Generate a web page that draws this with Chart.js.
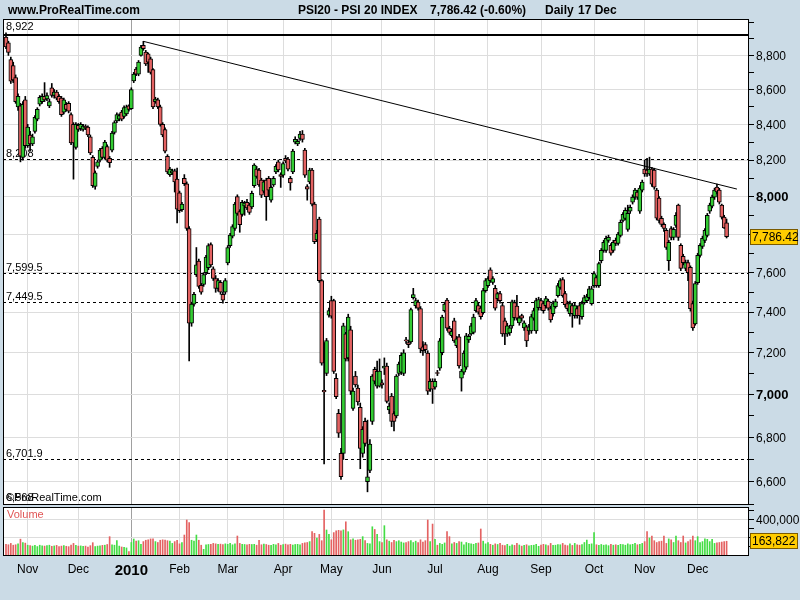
<!DOCTYPE html>
<html>
<head>
<meta charset="utf-8">
<title>PSI20 - PSI 20 INDEX</title>
<script src="https://cdn.jsdelivr.net/npm/chart.js@4.4.1/dist/chart.umd.min.js"></script>
<style>
  html, body { margin: 0; padding: 0; background: #cbdbe6; }
  #page { position: relative; width: 800px; height: 600px; overflow: hidden;
          font-family: "Liberation Sans", Arial, sans-serif; }
  canvas { position: absolute; left: 0; }
  #priceCanvas { top: 0; }
  #volCanvas { top: 500px; }
  .hdr { position: absolute; top: 3px; font-size: 12px; font-weight: bold; color: #000; white-space: pre; }
</style>
</head>
<body>
<div id="page">
  <canvas id="priceCanvas" width="800" height="506"></canvas>
  <canvas id="volCanvas" width="800" height="100"></canvas>
  <div class="hdr" style="left:8px">www.ProRealTime.com</div>
  <div class="hdr" style="left:298px">PSI20 - PSI 20 INDEX</div>
  <div class="hdr" style="left:430px">7,786.42 (-0.60%)</div>
  <div class="hdr" style="left:545px">Daily</div>
  <div class="hdr" style="left:578px">17 Dec</div>
</div>
<script>
// ===================== DATA =====================
// one entry per trading day, 20 Oct 2009 .. 17 Dec 2010 (index 0..299)
const opens = [
  8910,8875,8776,8740,8670,8500,8505,8215,8540,8280,
  8340,8290,8360,8430,8515,8530,8560,8545,8505,8610,
  8565,8585,8560,8550,8470,8515,8520,8455,8400,8270,
  8395,8375,8372,8390,8385,8330,8215,8055,8165,8200,
  8265,8215,8275,8210,8255,8355,8420,8430,8470,8445,
  8460,8505,8490,8650,8720,8690,8800,8860,8820,8810,
  8780,8717,8530,8540,8500,8400,8370,8220,8120,8130,
  8140,8095,8020,7930,8100,8070,7830,7345,7440,7590,
  7660,7535,7540,7600,7625,7745,7620,7570,7520,7550,
  7490,7500,7650,7740,7790,7830,8000,7920,7905,7950,
  7970,7955,7945,8060,8150,8145,8090,8030,8090,8100,
  7981,8063,8135,8190,8120,8117,8210,8205,8100,8135,
  8300,8290,8320,8345,8256,8055,8080,8145,7960,7770,
  7880,7559,7020,7100,7385,7458,7458,7077,6912,6727,
  6727,7292,7175,7312,6935,7087,7030,6940,6727,6874,
  6600,6650,6874,7120,7040,7040,7055,7126,7136,6927,
  6993,6910,6900,7100,7106,7100,7262,7250,7253,7473,
  7433,7450,7418,7229,7240,7199,7025,7063,7035,7102,
  7126,7200,7408,7460,7320,7283,7357,7234,7278,7078,
  7106,7130,7263,7292,7300,7408,7433,7420,7398,7508,
  7534,7615,7550,7520,7468,7493,7433,7357,7292,7297,
  7332,7448,7430,7347,7383,7322,7327,7307,7307,7370,
  7307,7423,7458,7443,7433,7455,7418,7392,7428,7483,
  7524,7565,7493,7443,7392,7433,7383,7418,7433,7378,
  7448,7458,7473,7443,7534,7575,7534,7662,7715,7715,
  7767,7741,7715,7767,7752,7794,7873,7883,7825,7922,
  7970,7997,8025,7922,8035,8150,8145,8123,8150,8145,
  8035,7992,7884,7852,7820,7662,7830,7783,7846,7954,
  7741,7684,7622,7652,7627,7443,7342,7549,7689,7736,
  7767,7794,7922,7949,7997,8052,8035,7954,7890,7860
];
const highs = [
  8935,8885,8790,8760,8685,8575,8520,8530,8560,8400,
  8360,8345,8450,8495,8565,8575,8640,8580,8545,8635,
  8600,8595,8570,8560,8550,8525,8530,8465,8410,8410,
  8405,8410,8400,8398,8392,8340,8225,8140,8200,8265,
  8275,8310,8285,8220,8360,8420,8465,8460,8480,8505,
  8510,8512,8610,8700,8730,8770,8860,8884,8830,8815,
  8790,8722,8555,8550,8510,8410,8380,8230,8160,8150,
  8150,8156,8030,7970,8120,8080,7840,7450,7500,7730,
  7670,7545,7600,7690,7750,7755,7630,7585,7570,7560,
  7500,7570,7740,7805,7850,7970,8010,7930,7980,7975,
  7985,7965,8030,8180,8165,8155,8100,8090,8100,8110,
  8060,8110,8175,8200,8130,8190,8225,8215,8110,8260,
  8330,8315,8360,8365,8265,8065,8155,8155,7970,7820,
  7890,7565,7250,7270,7420,7480,7465,7100,6930,6750,
  7345,7300,7390,7330,7030,7110,7045,6960,6850,6890,
  6880,6790,7095,7130,7160,7170,7070,7175,7150,6960,
  7005,6920,7095,7155,7200,7215,7275,7262,7420,7520,
  7470,7460,7428,7255,7250,7210,7075,7075,7075,7115,
  7270,7385,7450,7470,7330,7315,7370,7280,7290,7120,
  7210,7295,7290,7345,7390,7470,7445,7430,7520,7570,
  7580,7625,7580,7535,7500,7505,7445,7370,7345,7335,
  7460,7460,7485,7380,7390,7357,7335,7340,7390,7420,
  7470,7475,7470,7455,7480,7465,7430,7455,7465,7545,
  7570,7575,7505,7455,7455,7445,7445,7430,7445,7455,
  7485,7490,7530,7530,7605,7585,7655,7725,7768,7790,
  7795,7750,7768,7780,7810,7875,7915,7940,7954,7955,
  8010,8045,8035,8060,8090,8200,8210,8216,8160,8155,
  8045,8000,7895,7860,7830,7768,7840,7835,7915,7960,
  7750,7695,7665,7665,7635,7455,7555,7700,7750,7790,
  7830,7910,7965,8008,8046,8068,8045,7960,7900,7880
];
const lows = [
  8840,8800,8635,8640,8520,8480,8190,8200,8265,8270,
  8250,8280,8350,8420,8505,8520,8530,8535,8495,8555,
  8550,8540,8520,8445,8460,8475,8465,8285,8095,8260,
  8360,8365,8362,8370,8330,8230,8050,8040,8155,8190,
  8205,8205,8190,8160,8245,8345,8410,8420,8420,8435,
  8450,8475,8485,8640,8680,8680,8795,8830,8740,8700,
  8690,8490,8520,8490,8390,8330,8240,8125,8110,8120,
  8025,7860,7915,7920,8060,7820,7160,7330,7430,7580,
  7520,7490,7530,7590,7615,7630,7560,7500,7505,7490,
  7445,7490,7640,7730,7780,7820,7900,7810,7895,7900,
  7930,7905,7935,8050,8100,8055,7995,8020,7873,8000,
  7970,8055,8125,8135,8050,8105,8185,8140,8035,8125,
  8290,8280,8310,8300,8105,7981,8070,7950,7750,7760,
  7550,7140,6680,7090,7375,7370,7100,6980,6800,6610,
  6700,7160,7160,7000,6925,7035,6950,6658,6710,6760,
  6555,6640,6860,7050,7030,7035,7030,7095,6960,6910,
  6850,6830,6890,7090,7095,7090,7245,7225,7245,7465,
  7420,7410,7200,7187,7200,7000,7015,6958,7025,7090,
  7115,7190,7400,7310,7290,7275,7250,7225,7125,7016,
  7095,7120,7250,7285,7292,7400,7390,7365,7390,7500,
  7525,7550,7540,7410,7455,7445,7280,7240,7280,7285,
  7320,7360,7360,7335,7355,7310,7230,7290,7295,7360,
  7295,7410,7410,7395,7420,7410,7350,7380,7420,7475,
  7515,7475,7425,7405,7380,7325,7370,7370,7340,7365,
  7440,7450,7465,7435,7525,7525,7525,7650,7705,7705,
  7757,7690,7705,7740,7742,7785,7865,7875,7815,7910,
  7960,7985,7985,7910,8025,8110,8110,8115,8055,8040,
  7875,7860,7840,7815,7720,7611,7770,7770,7835,7767,
  7610,7640,7610,7559,7405,7310,7335,7540,7680,7725,
  7755,7785,7910,7940,7985,8015,7960,7880,7830,7780
];
const closes = [
  8850,8818,8648,8655,8530,8560,8222,8514,8280,8385,
  8290,8330,8440,8485,8555,8560,8540,8565,8530,8565,
  8585,8550,8530,8455,8540,8485,8475,8295,8295,8400,
  8372,8400,8390,8380,8340,8240,8060,8130,8190,8255,
  8215,8300,8200,8185,8350,8410,8456,8450,8430,8495,
  8500,8485,8600,8690,8690,8760,8850,8840,8750,8760,
  8700,8500,8545,8500,8400,8340,8250,8135,8150,8140,
  8080,7933,7925,7960,8070,7830,7345,7440,7490,7640,
  7530,7500,7590,7680,7740,7640,7570,7520,7560,7500,
  7460,7560,7730,7795,7840,7960,7910,7850,7970,7965,
  7940,7915,8018,8172,8110,8063,8008,8080,8000,8035,
  8050,8100,8165,8145,8110,8180,8195,8150,8075,8250,
  8315,8305,8345,8315,8117,8040,8145,7960,7760,7805,
  7559,7150,7012,7260,7408,7380,7110,6990,6820,6622,
  7332,7170,7375,7016,7016,7045,6965,6750,6837,6773,
  6622,6770,7087,7063,7110,7111,7045,7136,6968,6945,
  6874,6874,7087,7145,7187,7200,7258,7240,7413,7488,
  7458,7420,7219,7210,7215,7016,7063,7025,7063,7100,
  7258,7375,7440,7320,7300,7305,7258,7268,7136,7111,
  7199,7283,7280,7332,7375,7458,7400,7378,7508,7559,
  7570,7559,7570,7420,7493,7458,7292,7292,7332,7322,
  7452,7373,7370,7372,7370,7347,7258,7327,7378,7408,
  7458,7463,7423,7408,7468,7420,7362,7443,7453,7534,
  7559,7483,7438,7418,7443,7392,7433,7383,7383,7443,
  7473,7478,7518,7518,7595,7534,7647,7715,7757,7778,
  7783,7700,7757,7751,7800,7862,7905,7927,7910,7943,
  7997,8035,7997,8046,8079,8123,8123,8150,8068,8052,
  7884,7873,7852,7830,7730,7757,7783,7825,7900,7783,
  7622,7652,7652,7600,7418,7322,7544,7689,7741,7778,
  7820,7900,7954,7997,8035,8025,7970,7890,7833.4,7786.42
];
const volumes = [
  130000,125000,140000,120000,125000,135000,187000,150000,143000,120000,
  115000,110000,118000,105000,120000,112000,110000,115000,120000,108000,
  112000,118000,105000,110000,115000,108000,104000,120000,140000,118000,
  110000,112000,108000,110000,100000,115000,148000,105000,110000,112000,
  118000,120000,128000,215000,125000,120000,170000,110000,100000,95000,
  90000,48000,150000,189000,165000,170000,130000,160000,175000,180000,
  190000,192000,160000,150000,175000,180000,178000,170000,165000,140000,
  160000,175000,135000,150000,233000,400000,370000,175000,165000,233000,
  175000,120000,74000,125000,128000,130000,140000,135000,130000,132000,
  128000,135000,130000,140000,125000,135000,222000,140000,130000,128000,
  125000,130000,128000,130000,120000,175000,125000,132000,128000,120000,
  118000,130000,125000,140000,120000,128000,132000,125000,130000,122000,
  128000,130000,125000,140000,145000,150000,160000,270000,252000,200000,
  240000,170000,511000,289000,240000,180000,260000,280000,285000,280000,
  290000,380000,270000,180000,190000,175000,180000,185000,215000,170000,
  140000,135000,325000,295000,240000,160000,150000,337000,180000,165000,
  150000,175000,160000,170000,155000,145000,150000,160000,170000,150000,
  165000,150000,180000,155000,170000,400000,160000,355000,185000,120000,
  140000,130000,145000,270000,215000,135000,150000,140000,160000,155000,
  125000,150000,140000,135000,130000,140000,145000,300000,165000,135000,
  150000,130000,120000,135000,128000,140000,120000,115000,130000,110000,
  125000,118000,140000,122000,110000,118000,125000,112000,118000,120000,
  130000,108000,120000,130000,125000,115000,140000,118000,120000,128000,
  125000,140000,120000,115000,135000,118000,140000,125000,120000,128000,
  150000,177000,130000,135000,260000,125000,118000,128000,120000,125000,
  115000,130000,120000,125000,118000,130000,128000,120000,135000,125000,
  130000,140000,125000,130000,140000,160000,270000,200000,222000,170000,
  150000,160000,165000,222000,140000,190000,180000,150000,222000,170000,
  150000,222000,145000,160000,180000,222000,170000,215000,150000,160000,
  190000,185000,160000,185000,140000,145000,150000,155000,160000,163822
];

// x axis: first trading day of each month (index) and its label
const monthStarts = [9, 30, 52, 72, 92, 115, 135, 156, 178, 200, 222, 244, 265, 287];
const monthLabels = ['Nov', 'Dec', '2010', 'Feb', 'Mar', 'Apr', 'May', 'Jun', 'Jul', 'Aug', 'Sep', 'Oct', 'Nov', 'Dec'];

// price axis
const priceTicks = [6500, 6600, 6700, 6800, 6900, 7000, 7100, 7200, 7300, 7400, 7500, 7600, 7700,
                    7800, 7900, 8000, 8100, 8200, 8300, 8400, 8500, 8600, 8700, 8800, 8900, 9000];
const priceLabelTicks = [6600, 6800, 7000, 7200, 7400, 7600, 7800, 8000, 8200, 8400, 8600, 8800];
const priceBoldTicks = [7000, 8000];

// volume axis
const volTicks = [100000, 200000, 300000, 400000, 500000];
const volGridTicks = [200000, 400000];
const volLabelTicks = [400000];

// horizontal levels drawn on the price panel
const topLevel = 8922;
const levelValues = [8208, 7599.5, 7449.5, 6701.9];
const levelLabels = ['8,208', '7,599.5', '7,449.5', '6,701.9'];
const lowLabel = '6,568';

// trend line from the January high
const trendX = [57, 303.3];
const trendY = [8884, 8041];

// ===================== STYLE =====================
Chart.defaults.font.family = '"Liberation Sans", Arial, sans-serif';
Chart.defaults.font.size = 11;
Chart.defaults.color = '#000';

const UP = '#33cc33';
const DOWN = '#e46262';
const GRID = '#dddddd';
const FONT = '"Liberation Sans", Arial, sans-serif';
const X_MIN = -1.245, X_MAX = 308.3;

const isUp = i => closes[i] >= opens[i];
const fmt = v => v.toLocaleString('en-US', { maximumFractionDigits: 2 });

// keep every axis from asking the layout for extra room
function noPad(s) {
  s.paddingTop = 0; s.paddingBottom = 0; s.paddingLeft = 0; s.paddingRight = 0;
}

const panelPlugin = {
  id: 'panel',
  beforeDraw(chart) {
    const { ctx, chartArea: a } = chart;
    ctx.save();
    ctx.fillStyle = '#ffffff';
    ctx.fillRect(a.left, a.top, a.right - a.left, a.bottom - a.top);
    ctx.restore();
  },
  afterDraw(chart) {
    const { ctx, chartArea: a } = chart;
    ctx.save();
    ctx.strokeStyle = '#000';
    ctx.lineWidth = 1;
    ctx.strokeRect(Math.round(a.left) + 0.5, Math.round(a.top) + 0.5,
                   Math.round(a.right - a.left) - 1, Math.round(a.bottom - a.top) - 1);
    ctx.restore();
  }
};

function valueBox(chart, scale, value, text) {
  const { ctx, chartArea: a } = chart;
  const py = Math.round(scale.getPixelForValue(value));
  ctx.save();
  ctx.fillStyle = '#ffcc00';
  ctx.fillRect(a.right + 1, py - 8, 48, 16);
  ctx.strokeStyle = '#7a5a00';
  ctx.lineWidth = 1;
  ctx.strokeRect(a.right + 1.5, py - 7.5, 47, 15);
  ctx.fillStyle = '#000';
  ctx.font = '12px ' + FONT;
  ctx.textBaseline = 'middle';
  ctx.fillText(text, a.right + 3, py + 1);
  ctx.restore();
}

const levelPlugin = {
  id: 'levels',
  beforeDatasetsDraw(chart) {
    const { ctx, chartArea: a, scales: { y } } = chart;
    ctx.save();
    ctx.font = '11px ' + FONT;
    ctx.fillStyle = '#000';
    ctx.strokeStyle = '#000';
    let py = Math.round(y.getPixelForValue(topLevel));
    ctx.lineWidth = 2;
    ctx.beginPath(); ctx.moveTo(a.left, py); ctx.lineTo(a.right, py); ctx.stroke();
    ctx.fillText(fmt(topLevel), a.left + 3, py - 5);
    ctx.lineWidth = 1;
    ctx.setLineDash([3, 3]);
    levelValues.forEach((v, k) => {
      py = Math.round(y.getPixelForValue(v)) + 0.5;
      ctx.beginPath(); ctx.moveTo(a.left, py); ctx.lineTo(a.right, py); ctx.stroke();
      ctx.fillText(levelLabels[k], a.left + 3, py - 3);
    });
    ctx.setLineDash([]);
    ctx.fillText(lowLabel, a.left + 3, a.bottom - 4);
    ctx.fillText('\u00A9ProRealTime.com', a.left + 3, a.bottom - 4);
    ctx.restore();
  },
  afterDraw(chart) {
    valueBox(chart, chart.scales.y, closes[closes.length - 1], fmt(closes[closes.length - 1]));
  }
};

const volPlugin = {
  id: 'volLabel',
  afterDatasetsDraw(chart) {
    const { ctx, chartArea: a } = chart;
    ctx.save();
    ctx.font = '11px ' + FONT;
    ctx.fillStyle = '#e05555';
    ctx.fillText('Volume', a.left + 4, a.top + 11);
    ctx.restore();
  },
  afterDraw(chart) {
    const v = volumes[volumes.length - 1];
    valueBox(chart, chart.scales.y, v, fmt(v));
  }
};

const xGridColor = c => (c.tick && c.tick.value === 52) ? '#a0a0a0' : GRID;

// ===================== PRICE CHART =====================
new Chart(document.getElementById('priceCanvas'), {
  type: 'bar',
  data: {
    datasets: [
      {
        type: 'line',
        data: trendX.map((x, k) => ({ x, y: trendY[k] })),
        borderColor: '#000',
        borderWidth: 1,
        pointRadius: 0,
        order: 0
      },
      {
        data: opens.map((o, i) => ({ x: i, y: [o, closes[i]] })),
        backgroundColor: opens.map((o, i) => isUp(i) ? UP : DOWN),
        borderColor: '#000',
        borderWidth: 1,
        borderSkipped: false,
        barThickness: 4,
        minBarLength: 1,
        grouped: false,
        order: 1
      },
      {
        data: lows.map((l, i) => ({ x: i, y: [l, highs[i]] })),
        backgroundColor: '#000',
        borderWidth: 0,
        barThickness: 1,
        grouped: false,
        order: 2
      }
    ]
  },
  options: {
    responsive: false,
    animation: false,
    events: [],
    layout: { padding: { left: 3, top: 19, right: 0, bottom: 1 } },
    plugins: { legend: { display: false }, tooltip: { enabled: false } },
    scales: {
      x: {
        type: 'linear', min: X_MIN, max: X_MAX, offset: false,
        afterBuildTicks: s => { s.ticks = monthStarts.map(v => ({ value: v })); },
        afterFit: s => { s.height = 0; noPad(s); },
        border: { display: false },
        grid: { color: xGridColor, drawTicks: false, offset: false },
        ticks: { display: false }
      },
      y: {
        type: 'logarithmic', position: 'right', min: 6497, max: 9019,
        afterBuildTicks: s => { s.ticks = priceTicks.map(v => ({ value: v })); },
        afterFit: s => { s.width = 51; noPad(s); },
        border: { display: false },
        grid: {
          color: c => (c.tick && priceLabelTicks.includes(c.tick.value)) ? GRID : 'rgba(0,0,0,0)',
          tickColor: '#000', tickLength: 5
        },
        ticks: {
          padding: 2, autoSkip: false, color: '#000', labelOffset: 1,
          callback: v => priceLabelTicks.includes(v) ? fmt(v) : '',
          font: c => (c.tick && priceBoldTicks.includes(c.tick.value))
            ? { size: 13, weight: 'bold' } : { size: 12 }
        }
      }
    }
  },
  plugins: [panelPlugin, levelPlugin]
});

// ===================== VOLUME CHART =====================
new Chart(document.getElementById('volCanvas'), {
  type: 'bar',
  data: {
    datasets: [{
      data: volumes.map((v, i) => ({ x: i, y: v })),
      backgroundColor: volumes.map((v, i) => isUp(i) ? '#44dd44' : '#e46262'),
      borderWidth: 0,
      barThickness: 1,
      grouped: false
    }]
  },
  options: {
    responsive: false,
    animation: false,
    events: [],
    layout: { padding: { left: 3, top: 7, right: 0, bottom: 0 } },
    plugins: { legend: { display: false }, tooltip: { enabled: false } },
    scales: {
      x: {
        type: 'linear', min: X_MIN, max: X_MAX, offset: false,
        afterBuildTicks: s => { s.ticks = monthStarts.map(v => ({ value: v })); },
        afterFit: s => { s.height = 44; noPad(s); },
        border: { display: false },
        grid: { color: xGridColor, drawTicks: false, offset: false },
        ticks: {
          autoSkip: false, maxRotation: 0, padding: 6, color: '#000',
          callback: v => monthLabels[monthStarts.indexOf(v)],
          font: c => (c.tick && c.tick.value === 52) ? { size: 15, weight: 'bold' } : { size: 12 }
        }
      },
      y: {
        type: 'linear', position: 'right', min: 0, max: 544444,
        afterBuildTicks: s => { s.ticks = volTicks.map(v => ({ value: v })); },
        afterFit: s => { s.width = 51; noPad(s); },
        border: { display: false },
        grid: {
          color: c => (c.tick && volGridTicks.includes(c.tick.value)) ? GRID : 'rgba(0,0,0,0)',
          tickColor: '#000', tickLength: 5
        },
        ticks: {
          padding: 2, autoSkip: false, color: '#000', font: { size: 12 }, labelOffset: 1,
          callback: v => volLabelTicks.includes(v) ? fmt(v) : ''
        }
      }
    }
  },
  plugins: [panelPlugin, volPlugin]
});
</script>
</body>
</html>
